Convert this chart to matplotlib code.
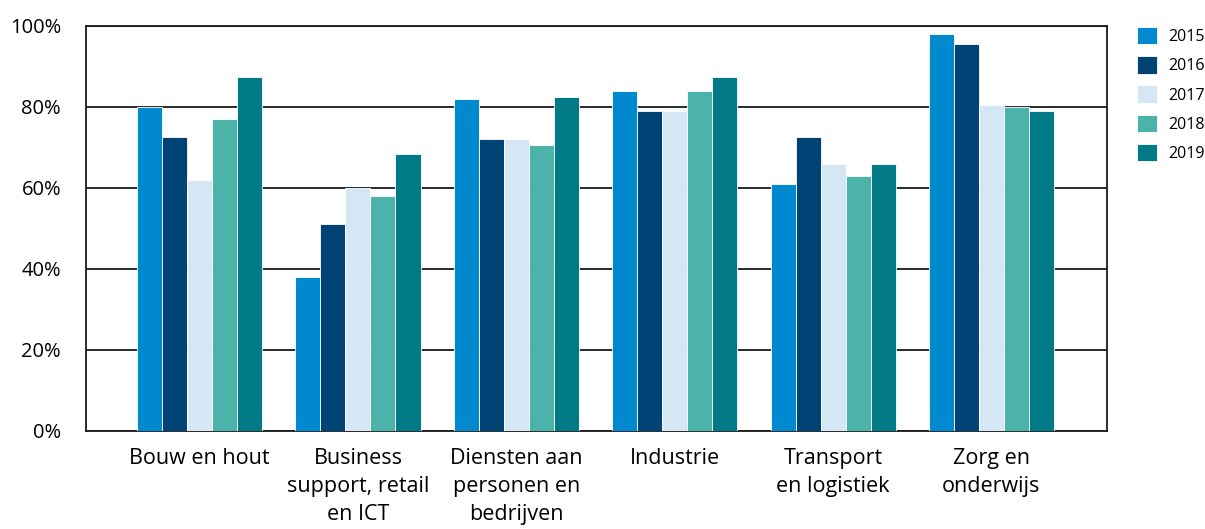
import matplotlib.pyplot as plt
import numpy as np

plt.rcParams['font.family'] = ['Open Sans', 'DejaVu Sans']

# sectors and yearly shares (%)
categories = ['Bouw en hout', 'Business\nsupport, retail\nen ICT', 'Diensten aan\npersonen en\nbedrijven',
              'Industrie', 'Transport\nen logistiek', 'Zorg en\nonderwijs']
years = ['2015', '2016', '2017', '2018', '2019']
v2015 = [80, 38, 82, 84, 61, 98]
v2016 = [72.5, 51, 72, 79, 72.5, 95.5]
v2017 = [62, 60, 72, 79, 66, 80.5]
v2018 = [77, 58, 70.5, 84, 63, 80]
v2019 = [87.5, 68.5, 82.5, 87.5, 66, 79]
series = [v2015, v2016, v2017, v2018, v2019]
colors = ['#0089CF', '#004375', '#D5E6F4', '#4BB3AA', '#007A87']

fig = plt.figure(figsize=(12.05, 5.29), dpi=100)
ax = fig.add_axes([0.0714, 0.1853, 0.8473, 0.7657])

x = np.arange(len(categories))
w = 0.158
for i, (vals, c, yr) in enumerate(zip(series, colors, years)):
    ax.bar(x + (i - 2) * w, vals, width=w, color=c, edgecolor='white', linewidth=0.6,
           label=yr, zorder=3)

ax.set_ylim(0, 100)
ax.set_xlim(-0.717, 5.73)
ax.set_yticks(np.arange(0, 101, 20))
ax.set_yticklabels([f'{v}%' for v in range(0, 101, 20)], fontsize=14.5)
ax.set_xticks(x)
ax.set_xticklabels(categories, fontsize=15.5, linespacing=1.45)
ax.tick_params(axis='y', length=0, pad=18)
ax.tick_params(axis='x', length=0, pad=12)
ax.yaxis.grid(True, color='#1a1a1a', linewidth=1.3, zorder=0)
for s in ax.spines.values():
    s.set_color('#1a1a1a')
    s.set_linewidth(1.3)

ax.legend(loc='upper left', bbox_to_anchor=(1.018, 1.025), frameon=False, fontsize=11.5,
          handlelength=1.3, handleheight=1.3, handletextpad=0.7, labelspacing=0.7,
          borderaxespad=0.3)

fig.savefig('out.png', dpi=100)
